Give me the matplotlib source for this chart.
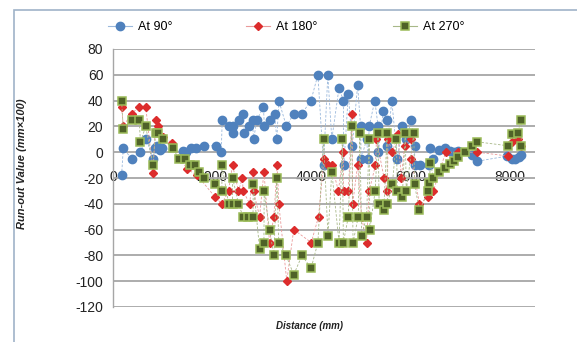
import matplotlib
matplotlib.use("Agg")
import matplotlib.pyplot as plt
from matplotlib.lines import Line2D
from matplotlib.patches import Rectangle

plt.rcParams['font.family'] = ['Liberation Sans', 'DejaVu Sans']

# ---- data (Distance in mm, Run-out value in mm x 100) ----
b_x = [173, 207, 373, 540, 673, 807, 840, 887, 940, 993, 1407, 1473, 1573, 1673, 1840, 2073,
       2180, 2200, 2327, 2407, 2420, 2540, 2610, 2630, 2740, 2810, 2830, 2900, 3030, 3050, 3153,
       3253, 3300, 3340, 3493, 3640, 3807, 3987, 4127, 4240, 4327, 4407, 4553, 4640, 4650, 4740,
       4820, 4927, 4987, 5000, 5107, 5140, 5160, 5273, 5340, 5345, 5445, 5510, 5527, 5615, 5727,
       5827, 5907, 6007, 6073, 6080, 6193, 6373, 6393, 6453, 6573, 6687, 6793, 6873, 6953, 7240,
       7340, 7940, 8040, 8100, 8180, 8220]
b_y = [-18, 3, -5, 0, 10, -5, 3, 5, 2, 3, 1, 0, 3, 3, 5, 5,
       0, 25, 20, 15, 20, 25, 30, 15, 20, 25, 10, 25, 35, 20, 25,
       30, 10, 40, 20, 30, 30, 40, 60, -10, 60, 10, 50, 40, -10, 45,
       5, 52, 20, -5, 10, -5, 20, 40, 20, 0, 32, 25, 5, 40, -5,
       20, 10, 25, 5, -10, -10, -10, 3, -5, 2, 3, 1, 0, 1, -2,
       -7, -3, -5, -5, -4, -2]

r_x = [173, 207, 373, 527, 660, 807, 860, 907, 1007, 1193, 1487, 1700, 2060, 2193, 2327, 2407,
       2527, 2607, 2620, 2753, 2820, 2830, 2953, 3040, 3153, 3240, 3307, 3340, 3500, 3640, 3993,
       4140, 4250, 4340, 4407, 4540, 4640, 4645, 4740, 4815, 4827, 4927, 5007, 5107, 5160, 5287,
       5307, 5460, 5527, 5540, 5627, 5740, 5807, 5873, 6007, 6010, 6173, 6340, 6453, 6700, 6950,
       7340, 7960, 8040, 8150, 8220]
r_y = [35, 20, 30, 35, 35, -16, 25, 20, 12, 7, -13, -18, -35, -40, -30, -10,
       -30, -20, -30, -40, -15, -30, -50, -15, -70, -50, -10, -40, -100, -60, -70,
       -50, -5, -10, -10, -30, 0, -30, -30, 30, -40, -10, -50, -70, -30, -10,
       10, -20, -30, 10, 0, 14, -20, 5, 10, -5, -40, -35, -30, 0, 0,
       0, -3, 8, 10, 5]

g_x = [173, 207, 373, 527, 553, 660, 800, 860, 907, 1007, 1200, 1333, 1453, 1550, 1653, 1740,
       1830, 2060, 2193, 2195, 2327, 2407, 2410, 2527, 2620, 2727, 2820, 2825, 2953, 3040, 3045,
       3153, 3240, 3300, 3340, 3487, 3640, 3807, 3990, 4127, 4240, 4330, 4407, 4553, 4620, 4640,
       4740, 4807, 4835, 4940, 4973, 5007, 5107, 5160, 5173, 5280, 5340, 5360, 5455, 5520, 5527,
       5627, 5707, 5727, 5827, 5887, 5907, 6060, 6073, 6173, 6350, 6373, 6393, 6453, 6573, 6687,
       6793, 6873, 6953, 7080, 7240, 7340, 7950, 8040, 8150, 8220, 8225]
g_y = [40, 18, 25, 25, 8, 20, -10, 15, 15, 10, 3, -5, -5, -10, -10, -15,
       -20, -25, -30, -10, -40, -40, -20, -40, -50, -50, -50, -25, -75, -70, -30,
       -60, -80, -20, -70, -80, -95, -80, -90, -70, 10, -65, -15, -70, 10, -70,
       -50, 20, -70, -50, 15, -65, -50, 10, -60, -30, 15, -40, -45, 15, -40,
       -25, 10, -30, -35, 15, -30, 15, -25, -45, -30, -24, -8, -20, -15, -12,
       -9, -7, -4, 0, 5, 8, 5, 14, 15, 25, 5]

series_labels = ["At 90°", "At 180°", "At 270°"]
x_ticks = [0, 2000, 4000, 6000, 8000]
y_ticks = list(range(-120, 81, 20))

# ---- figure ----
W, H = 577, 342
fig = plt.figure(figsize=(W / 100, H / 100), dpi=100)
fig.patch.set_facecolor('white')

# outer chart border
fig.patches.append(Rectangle((14 / W, -0.1), 1.2, 1 - 10 / H + 0.1, transform=fig.transFigure,
                             fill=False, edgecolor='#9fb3c8', linewidth=1.2))

ax = fig.add_axes([113 / W, 1 - 307 / H, (535 - 113) / W, (307 - 49) / H])
ax.set_xlim(0, 8500)
ax.set_ylim(-120, 80)

blue = '#4f81bd'
red = '#dc2c2c'
g_face = '#4f6228'
g_edge = '#9bbb59'
blue_ln = '#9ab8dc'
red_ln = '#ea9a9a'
green_ln = '#a8b888'

styles = [
    dict(marker='o', markersize=6, markerfacecolor=blue, markeredgecolor=blue, color=blue_ln),
    dict(marker='D', markersize=3.8, markerfacecolor=red, markeredgecolor=red, color=red_ln),
    dict(marker='s', markersize=5.2, markerfacecolor=g_face, markeredgecolor=g_edge,
         markeredgewidth=1.1, color=green_ln),
]

for (xs, ys), st, z in zip([(b_x, b_y), (r_x, r_y), (g_x, g_y)], styles, [3, 4, 5]):
    ax.plot(xs, ys, linestyle=(0, (3, 2)), linewidth=0.6, zorder=z, **st)

ax.set_yticks(y_ticks)
ax.set_xticks(x_ticks)
ax.set_yticklabels([str(v) for v in y_ticks])
ax.set_xticklabels([str(v) for v in x_ticks])
ax.grid(axis='y', color='#a6a6a6', linewidth=1.3, zorder=0)
ax.set_axisbelow(True)
for s in ['top', 'right']:
    ax.spines[s].set_visible(False)
ax.spines['bottom'].set_position(('data', 0))
ax.spines['bottom'].set_visible(False)
ax.spines['left'].set_color('#a6a6a6')
ax.spines['left'].set_linewidth(1.0)
ax.tick_params(axis='y', length=0, pad=7, labelsize=10, colors='#222222')
ax.tick_params(axis='x', length=0, pad=13, labelsize=10, colors='#222222')

# axis titles
fig.text(22 / W, 1 - 164 / H, "Run-out Value (mm×100)", rotation=90, ha='center', va='center',
         fontsize=8, fontweight='bold', fontstyle='italic', color='#222222')
fig.text(310 / W, 1 - 326 / H, "Distance (mm)", ha='center', va='center',
         fontsize=7, fontweight='bold', fontstyle='italic', color='#222222')

# legend entries (one per series, placed along the top)
leg_x = [108, 246, 393]
for lab, st, lx in zip(series_labels, styles, leg_x):
    h = Line2D([], [], linestyle='-', linewidth=0.8, **st)
    fig.legend([h], [lab], loc='center left', bbox_to_anchor=(lx / W, 1 - 27 / H),
               frameon=False, fontsize=9, handlelength=1.9, handletextpad=0.5,
               borderpad=0, borderaxespad=0)

fig.savefig("out.png", dpi=100)
